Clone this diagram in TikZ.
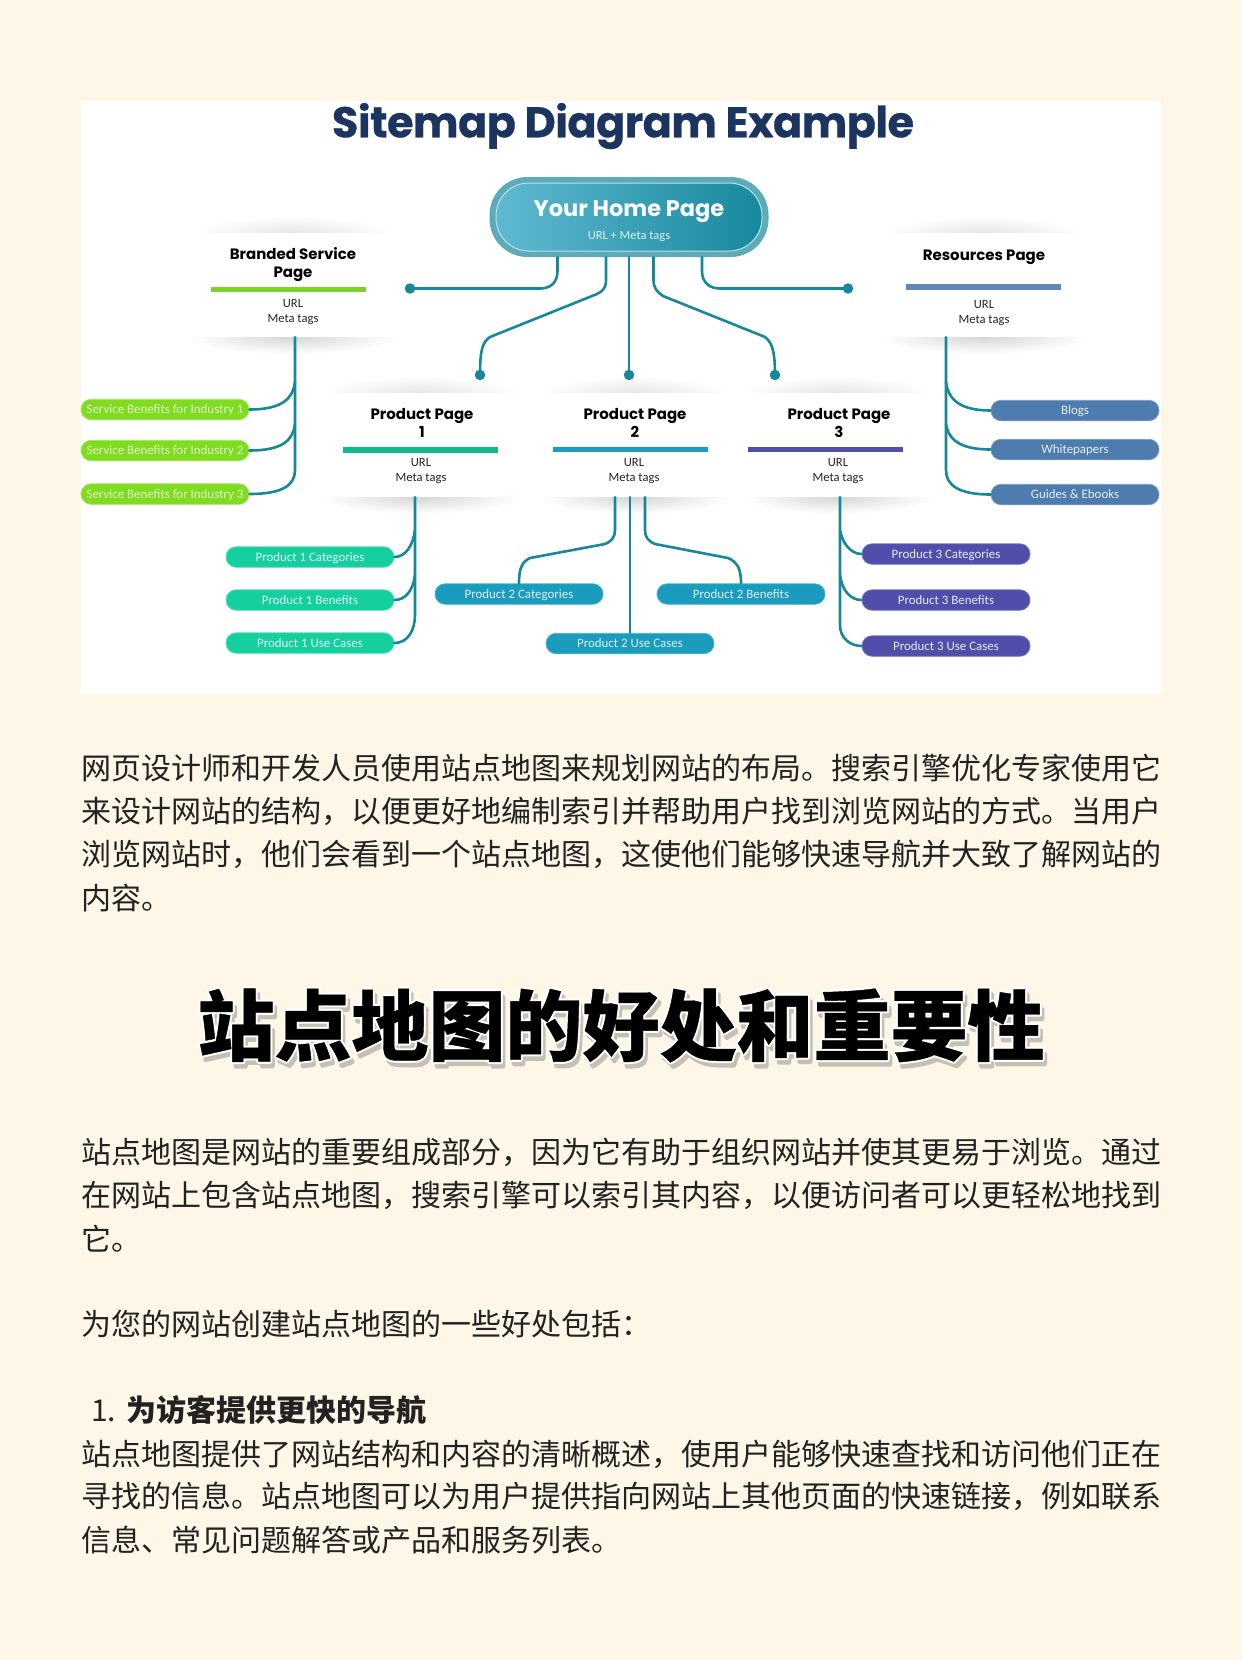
\documentclass[tikz,border=0pt]{standalone}
\usepackage{fontspec}
\usetikzlibrary{calc}
\setmainfont{Lato}
\newfontfamily\cjk{Noto Sans CJK SC}
\newfontfamily\pop{Poppins}
\newfontfamily\smallf{Carlito}
\definecolor{bg}{HTML}{FEF6E6}
\definecolor{navy}{HTML}{1B3560}
\definecolor{wire}{HTML}{17879A}
\definecolor{gr}{HTML}{7DD32A}
\definecolor{grp}{HTML}{7FDC20}
\definecolor{mint}{HTML}{16CF9F}
\definecolor{teal2}{HTML}{1B9BBD}
\definecolor{viol}{HTML}{4F4FAB}
\definecolor{steel}{HTML}{4E7CAE}
\definecolor{body}{HTML}{222222}
\tikzset{
 x=1pt,y=-1pt,
 pillbox/.style={rounded corners=10pt,minimum width=168pt,minimum height=20.5pt,inner sep=0pt,text height=10pt,text depth=2pt,font=\smallf\fontsize{12.9}{14}\selectfont},
 gpill/.style={pillbox,fill=grp,draw=grp!70!white,line width=.7pt,text=grp!25!white},
 mpill/.style={pillbox,fill=mint,draw=mint!70!white,line width=.7pt,text=white!85!mint},
 tpill/.style={pillbox,fill=teal2,draw=teal2!75!white,line width=.7pt,text=white!85!teal2},
 vpill/.style={pillbox,fill=viol,draw=viol!75!white,line width=.7pt,text=white!88!viol},
 spill/.style={pillbox,fill=steel,draw=steel!75!white,line width=.7pt,text=white!88!steel},
 conn/.style={draw=wire,line width=2.6pt,line cap=round},
 dotend/.style={circle,fill=wire,inner sep=0pt,minimum size=10.5pt},
 cardbox/.style={fill=white,inner sep=0pt},
 cardtitle/.style={font=\pop\bfseries\fontsize{15}{18}\selectfont,align=center,text=black,inner sep=0pt},
 cardmeta/.style={font=\smallf\fontsize{12.6}{15}\selectfont,align=center,text=black!85,inner sep=0pt},
 barbox/.style={minimum width=155pt,minimum height=5.5pt,inner sep=0pt},
 bodyline/.style={anchor=base west,inner sep=0pt,text=body,font=\cjk\fontsize{30}{30}\selectfont},
}
\newcommand{\softshadow}[4]{\shade[inner color=black!#4,outer color=white] (#1,#2) ellipse [x radius=#3,y radius=17];}
\newcommand{\strk}[3]{\textcolor{#1}{\special{pdf:code 2 Tr #2 w 1 j}#3\special{pdf:code 0 Tr 1 w 0 j}}}
\begin{document}
\begin{tikzpicture}
\useasboundingbox (0,0) rectangle (1242,1660);
\fill[bg] (0,0) rectangle (1242,1660);
\fill[white] (81,101) rectangle (1161,694);
% shadows
\softshadow{293}{233}{100}{10}\softshadow{293}{337}{105}{16}
\softshadow{984}{233}{100}{10}\softshadow{984}{337}{105}{16}
\softshadow{420}{393}{100}{10}\softshadow{420}{497}{100}{16}
\softshadow{635}{393}{95}{10}\softshadow{635}{497}{95}{16}
\softshadow{838}{393}{95}{10}\softshadow{838}{497}{95}{16}
% cards
\node[cardbox,minimum width=202pt,minimum height=104pt] (bs) at (292,285) {};
\node[cardbox,minimum width=202pt,minimum height=104pt] (rs) at (984,285) {};
\node[cardbox,minimum width=188pt,minimum height=104pt] (p1) at (416,445) {};
\node[cardbox,minimum width=196pt,minimum height=104pt] (p2) at (630,445) {};
\node[cardbox,minimum width=190pt,minimum height=104pt] (p3) at (840,445) {};
\node[font=\pop\bfseries\fontsize{43}{43}\selectfont\addfontfeature{LetterSpace=-1.2,FakeBold=0.5},text=navy,inner sep=0pt] (title) at (623,126) {Sitemap Diagram Example};
% home
\node[rounded corners=38pt,minimum width=279pt,minimum height=80pt,fill=wire!70!white,inner sep=0pt] (home) at (629,217) {};
\node[rounded corners=33pt,minimum width=266pt,minimum height=68pt,left color=white!30!teal2,right color=wire!90!teal2,draw=white!70!teal2,line width=1pt,inner sep=0pt] (homein) at (629,217) {};
\node[font=\pop\bfseries\fontsize{22.5}{24}\selectfont,text=white,inner sep=0pt] (hometitle) at (629,212) {Your Home Page};
\node[font=\smallf\fontsize{12.5}{14}\selectfont,text=white!85!teal2,inner sep=0pt] (homesub) at (629,237) {URL + Meta tags};
% card contents
\node[cardtitle] (bst) at (293,265) {Branded Service\\Page};
\node[barbox,fill=gr] (bsb) at (288,289.5) {};
\node[cardmeta] (bsm) at (293,312) {URL\\Meta tags};
\node[cardtitle] (rst) at (984,257.5) {Resources Page};
\node[barbox,fill=steel!90!white] (rsb) at (983.5,287) {};
\node[cardmeta] (rsm) at (984,313.5) {URL\\Meta tags};
\node[cardtitle] (p1t) at (422,423) {Product Page\\1};
\node[barbox,fill=mint!90!black] (p1b) at (420.5,450) {};
\node[cardmeta] (p1m) at (421,471.5) {URL\\Meta tags};
\node[cardtitle] (p2t) at (635,423) {Product Page\\2};
\node[barbox,fill=teal2] (p2b) at (630,449.5) {};
\node[cardmeta] (p2m) at (634,471.5) {URL\\Meta tags};
\node[cardtitle] (p3t) at (839,423) {Product Page\\3};
\node[barbox,fill=viol] (p3b) at (825,449.5) {};
\node[cardmeta] (p3m) at (838,471.5) {URL\\Meta tags};
% pills
\node[gpill] (g1) at (165,409.5) {Service Benefits for Industry 1};
\node[gpill] (g2) at (165,450.5) {Service Benefits for Industry 2};
\node[gpill] (g3) at (165,494) {Service Benefits for Industry 3};
\node[spill] (s1) at (1075,410.5) {Blogs};
\node[spill] (s2) at (1075,449.5) {Whitepapers};
\node[spill] (s3) at (1075,494.5) {Guides \& Ebooks};
\node[mpill] (m1) at (310,557) {Product 1 Categories};
\node[mpill] (m2) at (310,600) {Product 1 Benefits};
\node[mpill] (m3) at (310,643) {Product 1 Use Cases};
\node[tpill] (t1) at (519,594) {Product 2 Categories};
\node[tpill] (t2) at (741,594) {Product 2 Benefits};
\node[tpill] (t3) at (630,643.5) {Product 2 Use Cases};
\node[vpill] (v1) at (946,554) {Product 3 Categories};
\node[vpill] (v2) at (946,600) {Product 3 Benefits};
\node[vpill] (v3) at (946,646) {Product 3 Use Cases};
% end dots
\node[dotend] (d1) at (410,288.5) {};
\node[dotend] (d2) at (848,288.5) {};
\node[dotend] (d3) at (480,375) {};
\node[dotend] (d4) at (629,375) {};
\node[dotend] (d5) at (775,375) {};
% home connectors
\draw[conn] (home.south -| 557.5,0) -- (557.5,271) .. controls (557.5,283) and (550,288.5) .. (540,288.5) -- (d1.center);
\draw[conn] (home.south -| 702,0) -- (702,271) .. controls (702,283) and (710,288.5) .. (720,288.5) -- (d2.center);
\draw[conn] (home.south -| 606,0) -- (606,280) .. controls (606,288) and (603,291) .. (597,294) -- (490,337) .. controls (483,342) and (480,348) .. (d3.center);
\draw[conn] (home.south) -- (d4.center);
\draw[conn] (home.south -| 653.5,0) -- (653.5,280) .. controls (653.5,288) and (657,292) .. (663,296) -- (765,337) .. controls (771,342) and (775,348) .. (d5.center);
% Branded
\draw[conn] (bs.south -| 295,0) -- (295,470) .. controls (295,485) and (283,494) .. (g3.east);
\draw[conn] (295,382) .. controls (293,398) and (283,409.5) .. (g1.east);
\draw[conn] (295,424) .. controls (293,440) and (283,450.5) .. (g2.east);
% Resources
\draw[conn] (rs.south -| 946,0) -- (946,470) .. controls (946,485) and (958,494.5) .. (s3.west);
\draw[conn] (946,382) .. controls (948,398) and (958,410.5) .. (s1.west);
\draw[conn] (946,424) .. controls (948,438) and (958,449.5) .. (s2.west);
% P1
\draw[conn] (p1.south -| 415,0) -- (415,615) .. controls (415,630) and (408,643) .. (m3.east);
\draw[conn] (415,530) .. controls (413,545) and (406,557) .. (m1.east);
\draw[conn] (415,575) .. controls (413,590) and (406,600) .. (m2.east);
% P2
\draw[conn] (p2.south -| 615,0) -- (615,530) .. controls (615,537) and (612,541) .. (605,544) -- (530,558) .. controls (522,562) and (519,568) .. (t1.north);
\draw[conn] (p2.south -| 645,0) -- (645,530) .. controls (645,537) and (648,541) .. (655,544) -- (728,558) .. controls (737,562) and (741,568) .. (t2.north);
\draw[conn] (p2.south) -- (t3.north);
% P3
\draw[conn] (p3.south -| 840,0) -- (840,625) .. controls (840,638) and (850,646) .. (v3.west);
\draw[conn] (840,530) .. controls (842,542) and (850,554) .. (v1.west);
\draw[conn] (840,575) .. controls (842,590) and (850,600) .. (v2.west);
% body text
\node[bodyline] (l1) at (81,779) {网页设计师和开发人员使用站点地图来规划网站的布局。搜索引擎优化专家使用它};
\node[bodyline] (l2) at (81,822) {来设计网站的结构，以便更好地编制索引并帮助用户找到浏览网站的方式。当用户};
\node[bodyline] (l3) at (81,865.5) {浏览网站时，他们会看到一个站点地图，这使他们能够快速导航并大致了解网站的};
\node[bodyline] (l4) at (81,909) {内容。};
% heading
\node[inner sep=0pt,font=\cjk\bfseries\fontsize{77}{77}\selectfont] (head) at (621,1028) {%
 \rlap{\hspace{3pt}\raisebox{-5pt}{\strk{black!22!bg}{3.5}{站点地图的好处和重要性}}}%
 \rlap{\strk{white}{4.5}{站点地图的好处和重要性}}%
 \strk{black}{0.4}{站点地图的好处和重要性}};
\node[bodyline] (l5) at (81,1163) {站点地图是网站的重要组成部分，因为它有助于组织网站并使其更易于浏览。通过};
\node[bodyline] (l6) at (81,1206.5) {在网站上包含站点地图，搜索引擎可以索引其内容，以便访问者可以更轻松地找到};
\node[bodyline] (l7) at (81,1250) {它。};
\node[bodyline] (l8) at (81,1335) {为您的网站创建站点地图的一些好处包括：};
\node[bodyline] (n1) at (91,1421) {1.};
\node[bodyline,font=\cjk\bfseries\fontsize{30}{30}\selectfont] (l9) at (126,1421) {为访客提供更快的导航};
\node[bodyline] (l10) at (81,1465) {站点地图提供了网站结构和内容的清晰概述，使用户能够快速查找和访问他们正在};
\node[bodyline] (l11) at (81,1507) {寻找的信息。站点地图可以为用户提供指向网站上其他页面的快速链接，例如联系};
\node[bodyline] (l12) at (81,1551) {信息、常见问题解答或产品和服务列表。};
\end{tikzpicture}
\end{document}
